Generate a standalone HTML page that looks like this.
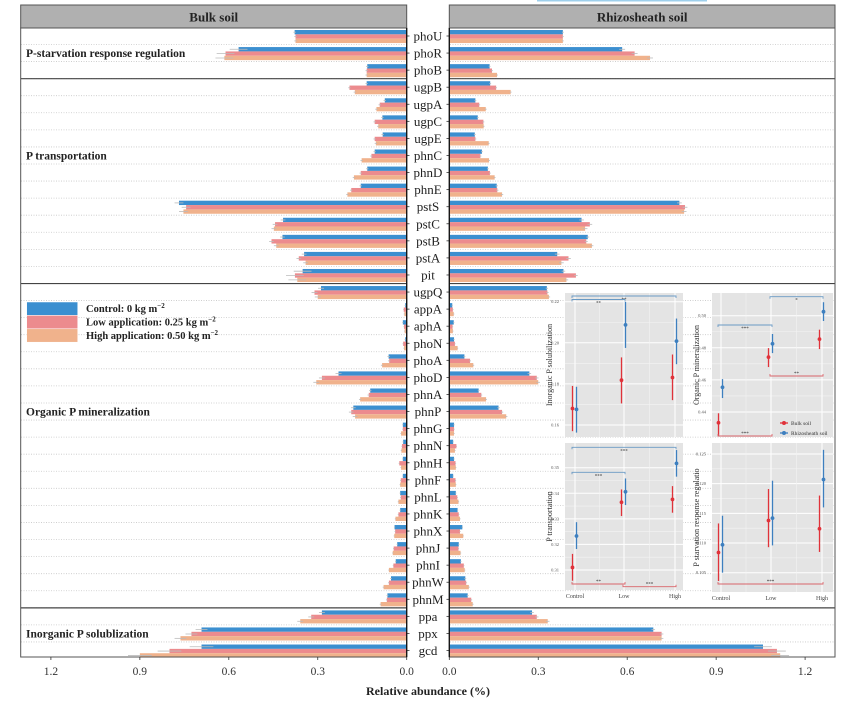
<!DOCTYPE html>
<html><head><meta charset="utf-8">
<style>
html,body{margin:0;padding:0;background:#fff;}
svg{display:block;font-family:"Liberation Serif",serif;}
</style></head>
<body>
<svg id="chart" width="864" height="709" viewBox="0 0 864 709" xmlns="http://www.w3.org/2000/svg"></svg>
<script>
const genes=["phoU","phoR","phoB","ugpB","ugpA","ugpC","ugpE","phnC","phnD","phnE","pstS","pstC","pstB","pstA","pit","ugpQ","appA","aphA","phoN","phoA","phoD","phnA","phnP","phnG","phnN","phnH","phnF","phnL","phnK","phnX","phnJ","phnI","phnW","phnM","ppa","ppx","gcd"];
const bulkControl=[0.378,0.567,0.133,0.135,0.074,0.082,0.081,0.108,0.133,0.155,0.768,0.417,0.419,0.346,0.351,0.289,0.005,0.013,0.005,0.061,0.230,0.123,0.180,0.013,0.012,0.013,0.013,0.022,0.022,0.041,0.032,0.037,0.053,0.065,0.286,0.692,0.692];
const bulkLow=[0.375,0.611,0.135,0.193,0.091,0.108,0.108,0.119,0.155,0.187,0.744,0.444,0.456,0.364,0.377,0.311,0.010,0.009,0.012,0.059,0.286,0.128,0.187,0.013,0.016,0.025,0.020,0.020,0.028,0.039,0.044,0.045,0.060,0.067,0.322,0.726,0.800];
const bulkHigh=[0.375,0.615,0.135,0.175,0.102,0.096,0.104,0.152,0.178,0.200,0.753,0.448,0.440,0.341,0.369,0.300,0.008,0.007,0.009,0.083,0.305,0.157,0.174,0.019,0.018,0.019,0.022,0.028,0.038,0.042,0.047,0.060,0.078,0.088,0.359,0.763,0.900];
const rhizoControl=[0.383,0.583,0.136,0.138,0.088,0.096,0.086,0.110,0.130,0.160,0.776,0.446,0.467,0.364,0.385,0.329,0.010,0.015,0.016,0.051,0.270,0.099,0.166,0.016,0.013,0.016,0.013,0.022,0.028,0.044,0.032,0.039,0.054,0.062,0.279,0.688,1.058];
const rhizoLow=[0.383,0.625,0.144,0.158,0.101,0.115,0.088,0.105,0.137,0.162,0.795,0.474,0.462,0.402,0.427,0.331,0.012,0.011,0.019,0.070,0.295,0.108,0.178,0.016,0.024,0.021,0.021,0.027,0.032,0.036,0.031,0.049,0.057,0.074,0.295,0.716,1.105];
const rhizoHigh=[0.383,0.677,0.161,0.207,0.123,0.116,0.133,0.134,0.153,0.178,0.792,0.458,0.481,0.378,0.395,0.336,0.015,0.012,0.028,0.081,0.300,0.124,0.192,0.016,0.019,0.022,0.022,0.031,0.036,0.047,0.038,0.052,0.066,0.079,0.332,0.716,1.116];
const bulkErr=[0.004,0.03,0.004,0.004,0.004,0.004,0.004,0.004,0.004,0.004,0.015,0.008,0.008,0.008,0.03,0.01,0.002,0.002,0.002,0.004,0.01,0.004,0.008,0.002,0.002,0.002,0.002,0.002,0.002,0.002,0.002,0.002,0.003,0.003,0.01,0.02,0.04];
const rhizoErr=[0.003,0.01,0.003,0.003,0.003,0.003,0.003,0.003,0.003,0.004,0.008,0.008,0.005,0.008,0.006,0.004,0.002,0.002,0.002,0.003,0.006,0.003,0.004,0.002,0.002,0.002,0.002,0.002,0.002,0.002,0.002,0.002,0.003,0.003,0.006,0.006,0.03];
const xTicks=[0,0.3,0.6,0.9,1.2];
const xTickLabels=["0.0","0.3","0.6","0.9","1.2"];
const groupNames=["P-starvation response regulation","P transportation","Organic P mineralization","Inorganic P solublization"];
const groupStart=[0,3,15,34];
const groupLabelRow=[1,7,22,35];
const insetCats=["Control","Low","High"];
const inorgBulk=[0.168,0.1818,0.1831],inorgBulkLo=[0.157,0.1705,0.1721],inorgBulkHi=[0.179,0.1929,0.1943];
const inorgRhizo=[0.1676,0.2087,0.2008],inorgRhizoLo=[0.1563,0.1975,0.1896],inorgRhizoHi=[0.1786,0.2199,0.2118];
const orgBulk=[0.4333,0.4742,0.4854],orgBulkLo=[0.4252,0.468,0.4792],orgBulkHi=[0.4392,0.4798,0.4913];
const orgRhizo=[0.4554,0.4825,0.5025],orgRhizoLo=[0.4487,0.4767,0.4967],orgRhizoHi=[0.4605,0.4886,0.5084];
const traBulk=[0.3110,0.3365,0.3376],traBulkLo=[0.3058,0.3311,0.3324],traBulkHi=[0.3163,0.3415,0.3428];
const traRhizo=[0.3233,0.3406,0.3517],traRhizoLo=[0.3182,0.3354,0.3465],traRhizoHi=[0.3287,0.3458,0.3569];
const staBulk=[0.1084,0.1138,0.1124],staBulkLo=[0.1036,0.1093,0.1085],staBulkHi=[0.1133,0.1191,0.1180];
const staRhizo=[0.1097,0.1142,0.1207],staRhizoLo=[0.105,0.1096,0.116],staRhizoHi=[0.1146,0.1205,0.1257];

const NS="http://www.w3.org/2000/svg";
const svg=document.getElementById('chart');
function mk(tag,attrs,parent){const e=document.createElementNS(NS,tag);for(const k in attrs)e.setAttribute(k,attrs[k]);(parent||svg).appendChild(e);return e;}
const C_BLUE="#3b8fd0",C_PINK="#ec8b8e",C_ORANGE="#f0b28c";
const LX0=406.7,RX0=449.3,SC=296.5;
const lx=v=>LX0-v*SC, rx=v=>RX0+v*SC;
const rowY=i=>36+i*17.07;
const PT=28,PB=657;

[[20.7,406.7,"Bulk soil","bulk-soil-header"],[449.3,835,"Rhizosheath soil","rhizosheath-soil-header"]].forEach(h=>{
  const r=mk('rect',{x:h[0],y:5,width:h[1]-h[0],height:23,fill:"#b0b0b0",stroke:"#555","stroke-width":1});
  
  
  const t=mk('text',{x:(h[0]+h[1])/2,y:21.5,"text-anchor":"middle","font-size":13,"font-weight":"bold",fill:"#222"});
  t.textContent=h[2];
  
  
});
const lb=mk('rect',{x:537,y:0,width:170,height:1.5,fill:"#9fd0ec"});



for(let i=0;i<genes.length-1;i++){
  const y=rowY(i)+8.5;
  const g1=mk('line',{x1:21,x2:406,y1:y,y2:y,stroke:"#c8c8c8","stroke-width":0.8,"stroke-dasharray":"1,1.5"});
  
  
  const g2=mk('line',{x1:450,x2:835,y1:y,y2:y,stroke:"#c8c8c8","stroke-width":0.8,"stroke-dasharray":"1,1.5"});
  
  
}

const bulkSeries=[bulkControl,bulkLow,bulkHigh], rhizoSeries=[rhizoControl,rhizoLow,rhizoHigh];
const cols=[C_BLUE,C_PINK,C_ORANGE], snames=["control","low","high"];
genes.forEach((g,i)=>{
  const c=rowY(i);
  for(let s=0;s<3;s++){
    const y=c-6+s*4.35;
    const vb=bulkSeries[s][i];
    const b=mk('rect',{x:lx(vb),y:y,width:LX0-lx(vb),height:4.35,fill:cols[s]});
    
    
    const e1=mk('line',{x1:lx(vb-bulkErr[i]),x2:lx(vb+bulkErr[i]),y1:y+2.2,y2:y+2.2,stroke:"#bbb","stroke-width":0.8});
    
    
    const vr=rhizoSeries[s][i];
    const r=mk('rect',{x:RX0,y:y,width:rx(vr)-RX0,height:4.35,fill:cols[s]});
    
    
    const e2=mk('line',{x1:rx(vr-rhizoErr[i]),x2:rx(vr+rhizoErr[i]),y1:y+2.2,y2:y+2.2,stroke:"#bbb","stroke-width":0.8});
    
    
  }
  const t=mk('text',{x:428,y:c+4.5,"text-anchor":"middle","font-size":13,fill:"#222"});
  t.textContent=g;
  
  
  const t1=mk('line',{x1:406.7,x2:409.5,y1:c,y2:c,stroke:"#333","stroke-width":0.8});
  
  
  const t2=mk('line',{x1:446.5,x2:449.3,y1:c,y2:c,stroke:"#333","stroke-width":0.8});
  
  
});

groupNames.forEach((n,k)=>{
  const t=mk('text',{x:26,y:rowY(groupLabelRow[k])+4,"font-size":11.5,"font-weight":"bold",fill:"#222"});
  t.textContent=n;
  
  
  if(k>0){
    const y=rowY(groupStart[k])-8.5;
    const a=mk('line',{x1:20.7,x2:406.7,y1:y,y2:y,stroke:"#444","stroke-width":1.2});
    
    
    const b=mk('line',{x1:449.3,x2:835,y1:y,y2:y,stroke:"#444","stroke-width":1.2});
    
    
  }
});
[[20.7,406.7,'left-panel-border'],[449.3,835,'right-panel-border']].forEach(p=>{
  const r=mk('rect',{x:p[0],y:PT,width:p[1]-p[0],height:PB-PT,fill:"none",stroke:"#555","stroke-width":1});
  
  
});
const ax1=mk('line',{x1:406.7,x2:406.7,y1:PT,y2:PB,stroke:"#111","stroke-width":1.3});


const ax2=mk('line',{x1:449.3,x2:449.3,y1:PT,y2:PB,stroke:"#111","stroke-width":1.3});



xTicks.forEach((v,k)=>{
  [[lx(v),'left'],[rx(v),'right']].forEach(p=>{
    const l=mk('line',{x1:p[0],x2:p[0],y1:PB,y2:PB+3,stroke:"#333","stroke-width":0.8});
    
    
    const t=mk('text',{x:p[0],y:675,"text-anchor":"middle","font-size":11.5,fill:"#333"});
    t.textContent=xTickLabels[k];
    
    
  });
});
const xt=mk('text',{x:428,y:695,"text-anchor":"middle","font-size":12,"font-weight":"bold",fill:"#222"});
xt.textContent="Relative abundance (%)";



const legTexts=["Control: 0 kg m","Low application: 0.25 kg m","High application: 0.50 kg m"];
legTexts.forEach((s,k)=>{
  const y=302+k*13.4;
  const r=mk('rect',{x:26.7,y:y,width:51,height:13.4,fill:cols[k],stroke:"#fff","stroke-width":0.5});
  
  
  const t=mk('text',{x:86,y:y+10,"font-size":10.5,"font-weight":"bold",fill:"#222"});
  t.textContent=s;
  const sup=mk('tspan',{dy:-4,"font-size":7},t);
  sup.textContent="−2";
  
  
});

const insets=[
 {name:'inorganic',x0:565,x1:683,y0:293,y1:437,cx:[575,624,675],v0:0.16,p0:425,v1:0.22,p1:301.7,ticks:[0.16,0.18,0.20,0.22],dec:2,title:"Inorganic P solubilization",b:inorgBulk,bl:inorgBulkLo,bh:inorgBulkHi,r:inorgRhizo,rl:inorgRhizoLo,rh:inorgRhizoHi,
  brackets:[[0,2,296,'#6a9ac4','**',1,1],[0,1,299.5,'#6a9ac4','**',1,0]],xlab:false},
 {name:'organic',x0:712,x1:833,y0:293,y1:437,cx:[721,771,822],v0:0.44,p0:412,v1:0.50,p1:315.7,ticks:[0.44,0.46,0.48,0.50],dec:2,title:"Organic P mineralization",b:orgBulk,bl:orgBulkLo,bh:orgBulkHi,r:orgRhizo,rl:orgRhizoLo,rh:orgRhizoHi,
  brackets:[[0,1,325,'#6a9ac4','***',1,0],[1,2,296.7,'#6a9ac4','*',1,0],[1,2,376,'#d9646a','**',-1,0],[0,1,436,'#d9646a','***',-1,0]],xlab:false,legend:true},
 {name:'transport',x0:565,x1:683,y0:443,y1:590,cx:[575,624,675],v0:0.31,p0:570,v1:0.35,p1:467.7,ticks:[0.31,0.32,0.33,0.34,0.35],dec:2,title:"P transportation",b:traBulk,bl:traBulkLo,bh:traBulkHi,r:traRhizo,rl:traRhizoLo,rh:traRhizoHi,
  brackets:[[0,2,447.3,'#6a9ac4','***',1,0],[0,1,472.3,'#6a9ac4','***',1,0],[0,1,584,'#d9646a','**',-1,0],[1,2,586.7,'#d9646a','***',-1,0]],xlab:true},
 {name:'starvation',x0:712,x1:833,y0:443,y1:592,cx:[721,771,822],v0:0.105,p0:572.7,v1:0.125,p1:454,ticks:[0.105,0.110,0.115,0.120,0.125],dec:3,title:"P starvation response regulatio",b:staBulk,bl:staBulkLo,bh:staBulkHi,r:staRhizo,rl:staRhizoLo,rh:staRhizoHi,
  brackets:[[0,2,584,'#d9646a','***',-1,0]],xlab:true}
];
insets.forEach(ins=>{
  const ys=v=>ins.p0+(v-ins.v0)/(ins.v1-ins.v0)*(ins.p1-ins.p0);
  const bg=mk('rect',{x:ins.x0,y:ins.y0,width:ins.x1-ins.x0,height:ins.y1-ins.y0,fill:"#e4e4e4"});
  
  
  ins.ticks.forEach((v,k)=>{
    const y=ys(v);
    const gl=mk('line',{x1:ins.x0,x2:ins.x1,y1:y,y2:y,stroke:"#fff","stroke-width":1});
    
    
    if(k<ins.ticks.length-1){
      const ym=ys((v+ins.ticks[k+1])/2);
      const gm=mk('line',{x1:ins.x0,x2:ins.x1,y1:ym,y2:ym,stroke:"#f3f3f3","stroke-width":0.6});
      
      
    }
    const t=mk('text',{x:ins.x0-6,y:y+1.5,"text-anchor":"end","font-size":4.5,fill:"#555"});
    t.textContent=v.toFixed(ins.dec);
    
    
  });
  ins.cx.forEach((x,k)=>{
    const gl=mk('line',{x1:x,x2:x,y1:ins.y0,y2:ins.y1,stroke:"#fff","stroke-width":1});
    
    
    if(k<2){
      const xm=(x+ins.cx[k+1])/2;
      const gm=mk('line',{x1:xm,x2:xm,y1:ins.y0,y2:ins.y1,stroke:"#f3f3f3","stroke-width":0.6});
      
      
    }
    if(ins.xlab){
      const t=mk('text',{x:x,y:ins.y1+8,"text-anchor":"middle","font-size":6,fill:"#444"});
      t.textContent=insetCats[k];
      
      
    }
  });
  const ttl=mk('text',{x:0,y:0,"text-anchor":"middle","font-size":8,fill:"#333",transform:`translate(${ins.x0-13},${(ins.y0+ins.y1)/2}) rotate(-90)`});
  ttl.textContent=ins.title;
  
  
  for(let k=0;k<3;k++){
    [[ins.b,ins.bl,ins.bh,-2.5,'#e0323a','bulk'],[ins.r,ins.rl,ins.rh,1.5,'#3d7fbf','rhizo']].forEach(s=>{
      const x=ins.cx[k]+s[3];
      const l=mk('line',{x1:x,x2:x,y1:ys(s[1][k]),y2:ys(s[2][k]),stroke:s[4],"stroke-width":1.3});
      
      
      const p=mk('circle',{cx:x,cy:ys(s[0][k]),r:1.9,fill:s[4]});
      
      
    });
  }
  ins.brackets.forEach(b=>{
    const xa=ins.cx[b[0]]-(b[0]===0?3:1), xb=ins.cx[b[1]]+1, y=b[2], d=b[5]*2;
    const pl=mk('polyline',{points:`${xa},${y+d} ${xa},${y} ${xb},${y} ${xb},${y+d}`,fill:"none",stroke:b[3],"stroke-width":0.9});
    
    
    const t=mk('text',{x:(xa+xb)/2,y:b[5]>0?y+5:y-1,"text-anchor":"middle","font-size":5,fill:"#333"});
    t.textContent=b[4];
    
    
  });
  if(ins.legend){
    [['Bulk soil','#e0323a',423],['Rhizosheath soil','#3d7fbf',433]].forEach(L=>{
      const ln=mk('line',{x1:780,x2:788,y1:L[2],y2:L[2],stroke:L[1],"stroke-width":1.3});
      
      
      const c=mk('circle',{cx:784,cy:L[2],r:2,fill:L[1]});
      
      
      const t=mk('text',{x:791,y:L[2]+2,"font-size":5.5,fill:"#333"});
      t.textContent=L[0];
      
      
    });
  }
});
</script>
</body></html>
